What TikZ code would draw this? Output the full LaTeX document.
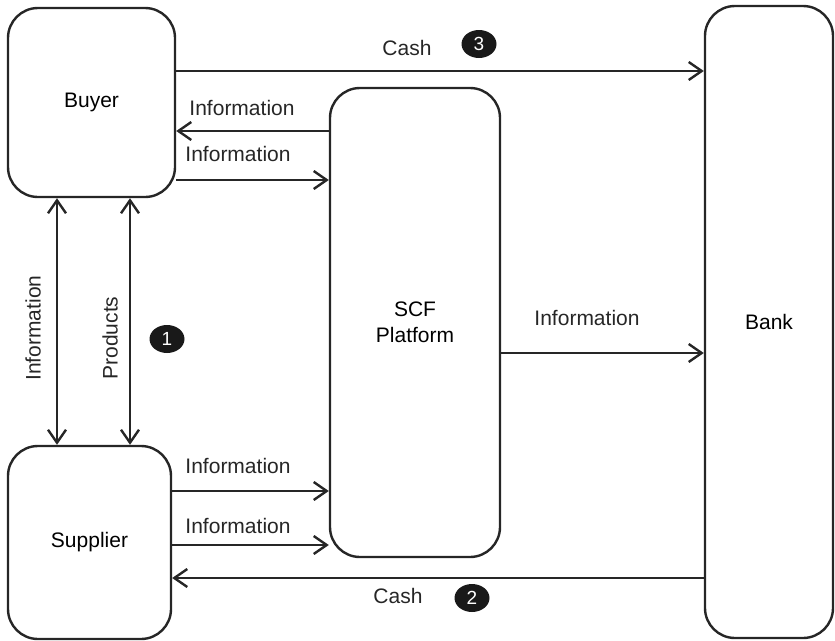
\documentclass[tikz,border=0pt]{standalone}
\usepackage{fontspec}
\setmainfont{Liberation Sans}
\usetikzlibrary{positioning,shapes.geometric,arrows.meta}
\tikzset{
  party/.style={rectangle, rounded corners=30pt, draw=black!85, line width=2.4pt, align=center,
                inner sep=0pt, font=\fontsize{21}{26}\selectfont},
  flow/.style ={-{Straight Barb[length=13pt,width=18pt]}, draw=black!85, line width=2.4pt},
  flow2/.style={{Straight Barb[length=13pt,width=18pt]}-{Straight Barb[length=13pt,width=18pt]},
                draw=black!85, line width=2.4pt},
  lbl/.style  ={inner sep=0pt, text=black!85, font=\fontsize{21}{26}\selectfont},
  badge/.style={ellipse, fill=black!90, minimum width=35pt, minimum height=28pt, inner sep=0pt,
                text=white, font=\fontsize{19}{22}\selectfont},
}
\begin{document}
\begin{tikzpicture}[x=1pt,y=-1pt]
\useasboundingbox (0,0) rectangle (835,640);
% --- parties ---
\node[party, minimum width=167pt, minimum height=189pt] (buyer)    at (91.5,102.5) {Buyer};
\node[party, minimum width=163pt, minimum height=193pt] (supplier) at (89.5,542.5) {Supplier};
\node[party, minimum width=170pt, minimum height=469pt] (scf)      at (415,322.5)  {SCF\\Platform};
\node[party, minimum width=128pt, minimum height=632pt] (bank)     at (769,322)    {Bank};
% --- labels ---
\node[lbl] (cashtop)  at (407,48)  {Cash};
\node[badge] (stepthree) at (479,44) {3};
\node[lbl] (infoback) at (242,108) {Information};
\node[lbl] (infoout)  at (238,154) {Information};
\node[lbl, rotate=90] (infovert) at (33,328) {Information};
\node[lbl, rotate=90] (prodvert) at (110,338) {Products};
\node[badge] (stepone) at (167,339) {1};
\node[lbl] (infobank) at (587,318) {Information};
\node[lbl] (infosup1) at (238,466) {Information};
\node[lbl] (infosup2) at (238,526) {Information};
\node[lbl] (cashbot)  at (398,596) {Cash};
\node[badge] (steptwo) at (472,598) {2};
% arrows: buyer <-> platform / bank
\draw[flow] ([yshift=31.5pt]buyer.east) -- ([yshift=31.5pt]buyer.east -| bank.west);
\draw[flow] ([yshift=191.5pt]scf.west) -- ([yshift=191.5pt]scf.west -| buyer.east);
\draw[flow] ([yshift=-77.5pt]buyer.east) -- ([yshift=-77.5pt]buyer.east -| scf.west);
% buyer <-> supplier
\draw[flow2] ([xshift=-34.5pt]buyer.south) -- ([xshift=-34.5pt]buyer.south |- supplier.north);
\draw[flow2] ([xshift=38.5pt]buyer.south) -- ([xshift=38.5pt]buyer.south |- supplier.north);
% platform -> bank
\draw[flow] ([yshift=-30.5pt]scf.east) -- ([yshift=-30.5pt]scf.east -| bank.west);
% supplier -> platform, bank -> supplier
\draw[flow] ([yshift=51.5pt]supplier.east) -- ([yshift=51.5pt]supplier.east -| scf.west);
\draw[flow] ([yshift=-2.5pt]supplier.east) -- ([yshift=-2.5pt]supplier.east -| scf.west);
\draw[flow] ([yshift=-256pt]bank.west) -- ([yshift=-256pt]bank.west -| supplier.east);
\end{tikzpicture}
\end{document}
